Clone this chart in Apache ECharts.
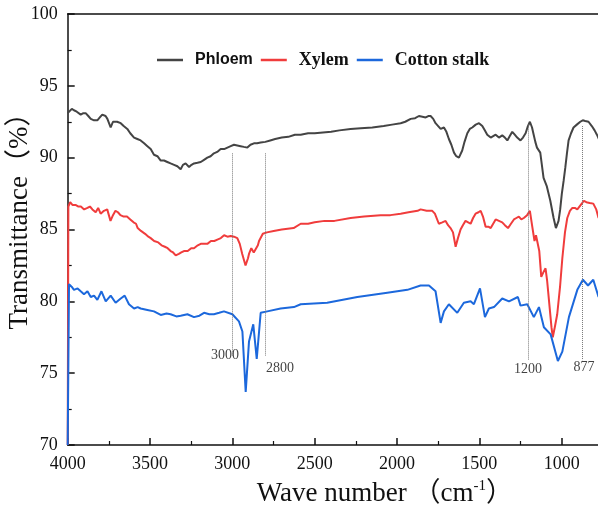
<!DOCTYPE html>
<html>
<head>
<meta charset="utf-8">
<script src="https://cdn.jsdelivr.net/npm/echarts@6/dist/echarts.min.js"></script>
<style>
  html, body { margin: 0; padding: 0; background: #fff; }
  #chart { width: 598px; height: 505px; }
</style>
</head>
<body>
<div id="chart"></div>
<script>
// wave numbers (cm-1) and transmittance (%)
var phloemWn = [4000,3992,3975,3962,3945,3921,3905,3891,3875,3860,3840,3820,3805,3790,3770,3759,3739,3725,3719,3700,3678,3660,3638,3620,3597,3577,3557,3536,3516,3496,3476,3455,3435,3415,3395,3375,3354,3334,3314,3300,3284,3263,3248,3233,3212,3192,3172,3152,3132,3112,3092,3071,3050,3030,3010,2990,2970,2950,2930,2909,2890,2869,2850,2828,2800,2770,2740,2700,2660,2620,2585,2540,2500,2450,2400,2350,2282,2220,2150,2081,2030,1978,1950,1917,1890,1867,1846,1826,1810,1796,1780,1766,1750,1735,1715,1700,1685,1670,1654,1640,1624,1604,1590,1573,1558,1543,1522,1502,1482,1467,1452,1431,1416,1401,1381,1361,1345,1330,1315,1300,1285,1270,1250,1235,1219,1205,1193,1180,1170,1160,1150,1130,1110,1090,1069,1049,1035,1027,1019,1009,999,988,978,968,958,943,928,908,887,872,857,837,817,800,786,770];
var phloemT = [93.1,93.2,93.4,93.3,93.2,93.0,93.1,93.1,92.9,92.7,92.6,92.6,92.8,93.0,92.9,92.7,92.1,92.5,92.6,92.5,92.4,92.2,92.0,91.7,91.4,91.3,91.2,91.0,90.8,90.6,90.2,90.1,89.8,89.8,89.7,89.6,89.5,89.4,89.2,89.5,89.6,89.35,89.5,89.6,89.65,89.7,89.85,90.0,90.1,90.3,90.4,90.6,90.6,90.7,90.8,90.9,90.85,90.8,90.75,90.7,90.9,91.0,91.0,91.05,91.1,91.2,91.3,91.4,91.45,91.6,91.6,91.7,91.7,91.75,91.8,91.9,92.0,92.05,92.1,92.2,92.3,92.4,92.5,92.7,92.75,92.9,92.85,92.8,92.9,92.9,92.7,92.4,92.2,92.0,92.1,91.8,91.3,90.9,90.35,90.1,90.0,90.5,91.1,91.7,92.0,92.1,92.3,92.4,92.2,91.9,91.6,91.4,91.5,91.6,91.4,91.55,91.4,91.2,91.5,91.8,91.6,91.4,91.2,91.4,91.7,92.2,92.5,92.1,91.6,91.1,90.7,90.35,88.6,88.0,87.0,85.8,85.1,85.2,85.6,86.4,87.5,88.4,89.3,90.3,91.2,91.7,92.1,92.3,92.5,92.6,92.55,92.5,92.2,91.9,91.6,91.2];

var xylemWn = [4000,3996,3985,3970,3950,3935,3920,3900,3880,3865,3850,3830,3815,3800,3780,3760,3740,3725,3710,3695,3680,3660,3640,3620,3600,3585,3575,3555,3530,3510,3496,3475,3450,3430,3410,3393,3375,3360,3344,3325,3310,3294,3271,3250,3233,3210,3192,3170,3152,3130,3110,3091,3070,3050,3030,3010,2990,2970,2955,2940,2920,2905,2899,2885,2870,2858,2845,2838,2815,2790,2749,2700,2628,2585,2540,2500,2440,2380,2282,2200,2100,2040,1978,1930,1875,1857,1820,1786,1770,1746,1725,1705,1690,1675,1660,1644,1630,1614,1600,1584,1568,1553,1538,1523,1505,1492,1478,1462,1445,1431,1416,1401,1381,1361,1345,1326,1308,1290,1275,1260,1245,1230,1210,1193,1180,1165,1156,1148,1136,1124,1112,1098,1088,1075,1062,1054,1040,1027,1010,996,980,966,950,935,920,905,885,865,850,830,808,790,776];
var xylemT = [70,86.6,86.9,86.7,86.7,86.6,86.6,86.4,86.5,86.6,86.4,86.2,86.5,86.1,86.3,86.4,85.6,86.0,86.3,86.2,86.0,85.9,85.9,85.7,85.5,85.4,85.1,84.9,84.7,84.5,84.4,84.2,84.1,83.9,83.8,83.7,83.5,83.4,83.2,83.3,83.4,83.5,83.5,83.7,83.7,83.9,84.0,84.0,84.0,84.2,84.2,84.3,84.4,84.6,84.5,84.55,84.5,84.4,84.0,83.3,82.5,83.0,83.3,83.7,83.4,83.5,83.9,84.2,84.7,84.8,84.9,85.0,85.1,85.4,85.4,85.5,85.6,85.6,85.8,85.9,86.0,86.0,86.1,86.2,86.3,86.4,86.3,86.3,86.1,85.4,85.5,85.6,85.3,85.1,84.8,83.8,84.4,85.0,85.3,85.6,85.5,85.4,85.8,86.1,86.2,86.3,85.9,85.2,85.2,85.1,85.4,85.7,85.6,85.5,85.3,85.1,85.4,85.7,85.8,85.9,85.7,85.8,86.0,86.3,85.3,84.2,84.6,84.7,83.5,81.7,82.0,82.3,81.4,79.8,78.2,77.5,78.3,79.1,81.0,83.0,84.8,85.8,86.3,86.5,86.5,86.4,86.7,87.0,86.9,86.85,86.8,86.4,85.8];

var cottonWn = [4000,3992,3975,3962,3940,3921,3901,3880,3860,3840,3820,3795,3769,3739,3709,3678,3654,3628,3597,3575,3557,3516,3476,3435,3400,3375,3340,3314,3273,3233,3200,3172,3140,3112,3080,3051,3000,2960,2939,2919,2899,2873,2852,2828,2788,2707,2626,2585,2424,2241,2059,1937,1857,1806,1766,1735,1715,1685,1634,1594,1553,1533,1496,1466,1442,1411,1361,1320,1266,1250,1209,1169,1138,1108,1067,1023,996,956,905,871,840,808,776];
var cottonT = [70,81.2,81.0,80.8,80.9,80.7,80.5,80.7,80.3,80.4,80.1,80.7,80.0,80.4,79.9,80.2,80.4,79.8,79.5,79.6,79.5,79.4,79.3,79.05,79.15,79.1,78.95,79.0,79.1,78.9,79.0,79.2,79.1,79.1,79.2,79.3,79.1,78.6,77.9,73.7,77.2,78.4,76.0,79.2,79.3,79.5,79.6,79.8,79.9,80.3,80.6,80.8,81.1,81.1,80.7,78.5,79.3,79.8,79.2,79.9,80.0,79.8,80.9,78.9,79.5,79.6,80.2,80.0,80.3,79.7,79.8,78.9,79.6,78.2,77.7,75.85,76.5,78.9,80.8,81.5,81.1,81.5,80.3];

// marked bands: dotted guides and their labels
var peakNames = ['3000', '2800', '1200', '877'];
var peakWn = [3000, 2800, 1200, 877];
var peakTop = [90.3, 90.3, 92.3, 92.2];
var peakBottom = [76.2, 76.2, 75.9, 75.9];
var peakLabelWn = [3045, 2711, 1205, 864];
var peakLabelT = [76.27, 75.36, 75.3, 75.43];

var serif = "'Liberation Serif', 'Noto Sans CJK SC', serif";
var ink = '#111';

function pairs (xs, ys) {
  return xs.map(function (x, i) { return [x, ys[i]] })
}

var chart = echarts.init(document.getElementById('chart'))

function spectrum (name, color, xs, ys) {
  return {
    name: name,
    type: 'line',
    symbol: 'none',
    lineStyle: { color: color, width: 2 },
    itemStyle: { color: color },
    data: pairs(xs, ys)
  }
}

var markerData = peakWn.map(function (w, i) {
  return [{ coord: [w, peakTop[i]] }, { coord: [w, peakBottom[i]] }]
})

var labelData = peakNames.map(function (n, i) {
  return { name: n, value: [peakLabelWn[i], peakLabelT[i]] }
})

var axisCommon = {
  type: 'value',
  axisLine: { show: true, onZero: false, lineStyle: { color: ink, width: 1.5 } },
  splitLine: { show: false }
}

var plain = function (v) { return String(v) }

chart.setOption({
  animation: false,
  backgroundColor: '#fff',
  grid: { left: 67.7, top: 14, width: 576.3, height: 431, containLabel: false, outerBoundsMode: 'none' },
  legend: {
    data: ['Phloem', 'Xylem', 'Cotton stalk'],
    left: 157,
    top: 51,
    padding: 0,
    icon: 'rect',
    itemWidth: 26,
    itemHeight: 2.5,
    itemGap: 8,
    formatter: function (name) {
      return name === 'Phloem' ? '{s|' + name + '}' : '{b|' + name + '}'
    },
    textStyle: {
      padding: [0, 0, 0, 7],
      rich: {
        s: { fontFamily: "'Liberation Sans', Arial, sans-serif", fontWeight: 'bold', fontSize: 16, color: ink },
        b: { fontFamily: serif, fontWeight: 'bold', fontSize: 18, color: ink }
      }
    }
  },
  xAxis: [
    Object.assign({}, axisCommon, {
      min: 500,
      max: 4000,
      interval: 500,
      inverse: true,
      position: 'bottom',
      axisTick: { show: true, inside: true, length: 7, lineStyle: { color: ink, width: 1.5 } },
      minorTick: { show: true, splitNumber: 2, length: 4, lineStyle: { color: ink, width: 1.2 } },
      axisLabel: { fontFamily: serif, fontSize: 18, color: ink, margin: 10, formatter: plain },
      name: 'Wave number （cm{sup|-1}）',
      nameLocation: 'middle',
      nameGap: 34,
      nameMoveOverlap: false,
      nameTextStyle: {
        fontFamily: serif,
        fontSize: 27,
        color: ink,
        padding: [0, 0, 0, 58],
        rich: {
          sup: { fontFamily: serif, fontSize: 15, color: ink, verticalAlign: 'bottom', padding: [0, 0, 15, 0] }
        }
      }
    }),
    Object.assign({}, axisCommon, {
      min: 500,
      max: 4000,
      inverse: true,
      position: 'top',
      axisTick: { show: false },
      axisLabel: { show: false }
    })
  ],
  yAxis: Object.assign({}, axisCommon, {
    min: 70,
    max: 100,
    interval: 5,
    axisTick: { show: true, inside: true, length: 7, lineStyle: { color: ink, width: 1.5 } },
    minorTick: { show: true, splitNumber: 2, length: 4, lineStyle: { color: ink, width: 1.2 } },
    axisLabel: { fontFamily: serif, fontSize: 18, color: ink, margin: 10, formatter: plain },
    name: 'Transmittance（%）',
    nameLocation: 'middle',
    nameGap: 34,
    nameMoveOverlap: false,
    nameTextStyle: { fontFamily: serif, fontSize: 27, color: ink, padding: [0, 0, 0, 30] }
  }),
  series: [
    spectrum('Phloem', '#444444', phloemWn, phloemT),
    spectrum('Xylem', '#f03c3c', xylemWn, xylemT),
    spectrum('Cotton stalk', '#1c68dc', cottonWn, cottonT),
    {
      name: 'peaks',
      type: 'scatter',
      symbolSize: 1,
      itemStyle: { color: 'rgba(0,0,0,0)' },
      label: {
        show: true,
        position: 'inside',
        formatter: '{b}',
        fontFamily: serif,
        fontSize: 14,
        color: ink
      },
      data: labelData,
      markLine: {
        silent: true,
        symbol: 'none',
        label: { show: false },
        lineStyle: { color: '#777', type: 'dotted', width: 1 },
        data: markerData
      },
      z: 1
    }
  ]
})
</script>
</body>
</html>
